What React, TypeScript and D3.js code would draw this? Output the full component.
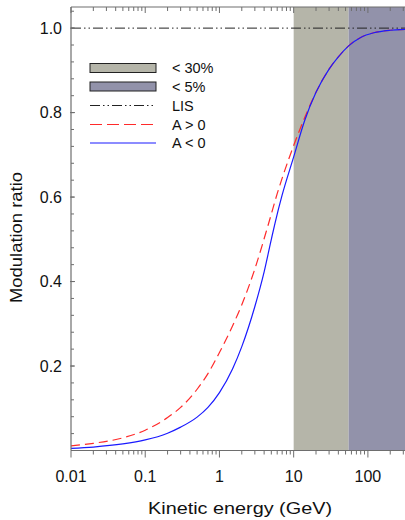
import React from "react";
import * as d3 from "d3";

// Kinetic energy grid (GeV) and modulation ratios for both polarity states
const energyPos = [0.01, 0.02, 0.05, 0.1, 0.2, 0.3, 0.5, 0.7, 1, 1.5, 2, 3, 4.5, 6, 8.5, 10, 14, 20, 30, 40, 55, 80, 120, 200, 316];
const ratioPos = [0.011, 0.017, 0.03, 0.048, 0.078, 0.102, 0.145, 0.182, 0.232, 0.295, 0.345, 0.43, 0.532, 0.608, 0.688, 0.722, 0.787, 0.848, 0.903, 0.932, 0.958, 0.978, 0.989, 0.995, 0.997];

const energyNeg = [0.01, 0.02, 0.05, 0.1, 0.2, 0.3, 0.5, 0.7, 1, 1.5, 2, 3, 4, 5, 5.6, 7, 10, 14, 20, 30, 40, 55, 80, 120, 200, 316];
const ratioNeg = [0.0052, 0.0082, 0.0155, 0.025, 0.041, 0.0553, 0.079, 0.102, 0.137, 0.193, 0.246, 0.341, 0.423, 0.5, 0.538, 0.605, 0.695, 0.78, 0.848, 0.903, 0.932, 0.958, 0.978, 0.989, 0.995, 0.997];

// Uncertainty bands (GeV)
const bandRanges = [
  { label: "< 30%", from: 10, to: 55, fill: "#b5b5a9" },
  { label: "< 5%", from: 55, to: 316.2, fill: "#9292aa" },
];

const xTickValues = [0.01, 0.1, 1, 10, 100];
const xTickLabels = ["0.01", "0.1", "1", "10", "100"];
const yTickValues = [0.2, 0.4, 0.6, 0.8, 1.0];
const yTickLabels = ["0.2", "0.4", "0.6", "0.8", "1.0"];

const W = 405;
const H = 520;
const m = { left: 71, right: 405, top: 7, bottom: 450.5 };

export default function App() {
  const x = d3.scaleLog().domain([0.01, 316.2]).range([m.left, m.right]);
  const y = d3.scaleLinear().domain([0, 1.05]).range([m.bottom, m.top]);

  const line = d3
    .line<[number, number]>()
    .x((d) => x(d[0]))
    .y((d) => y(d[1]))
    .curve(d3.curveMonotoneX);

  const posPath = line(energyPos.map((e, i) => [e, ratioPos[i]]) as [number, number][]) || "";
  const negPath = line(energyNeg.map((e, i) => [e, ratioNeg[i]]) as [number, number][]) || "";

  // minor x ticks: 2..9 in each decade
  const minorX: number[] = [];
  for (let p = -2; p <= 2; p++) {
    for (let k = 2; k <= 9; k++) {
      const v = k * Math.pow(10, p);
      if (v <= 316) minorX.push(v);
    }
  }
  const minorY: number[] = [];
  for (let i = 1; i <= 26; i++) {
    minorY.push(+(i * 0.04).toFixed(2));
  }

  const axisColor = "#6e6e6e";
  const font = "'Liberation Sans', Arial, sans-serif";
  const lisDash = "10,3,1.5,3,1.5,3";

  const legendX1 = 90;
  const legendX2 = 156;
  const legendTextX = 172;
  const rows = [68, 86.5, 105.5, 124.5, 143];

  return (
    <svg
      width={W}
      height={H}
      style={{ position: "absolute", left: 0, top: 0, background: "#fff" }}
      fontFamily={font}
    >
      {/* bands */}
      {bandRanges.map((b) => (
        <rect
          key={b.label}
          x={x(b.from)}
          y={m.top}
          width={x(b.to) - x(b.from)}
          height={m.bottom - m.top}
          fill={b.fill}
        />
      ))}

      {/* LIS reference */}
      <line
        x1={m.left}
        x2={m.right}
        y1={y(1)}
        y2={y(1)}
        stroke="#222"
        strokeWidth={1}
        strokeDasharray={lisDash}
      />

      {/* curves */}
      <path d={posPath} fill="none" stroke="#ff2a2a" strokeWidth={1.2} strokeDasharray="9,5" />
      <path d={negPath} fill="none" stroke="#1a1aff" strokeWidth={1.2} />

      {/* axes frame */}
      <line x1={m.left} x2={m.right} y1={m.top} y2={m.top} stroke={axisColor} strokeWidth={1.2} />
      <line x1={m.left} x2={m.left} y1={m.top} y2={m.bottom} stroke={axisColor} strokeWidth={1.2} />
      <line x1={m.left} x2={m.right} y1={m.bottom} y2={m.bottom} stroke={axisColor} strokeWidth={1.2} />

      {/* x ticks bottom (outside) and top (inside) */}
      {xTickValues.map((v) => (
        <g key={"xt" + v}>
          <line x1={x(v)} x2={x(v)} y1={m.bottom} y2={m.bottom + 7} stroke={axisColor} strokeWidth={1} />
          <line x1={x(v)} x2={x(v)} y1={m.top} y2={m.top + 6} stroke={axisColor} strokeWidth={1} />
        </g>
      ))}
      {minorX.map((v) => (
        <g key={"xm" + v}>
          <line x1={x(v)} x2={x(v)} y1={m.bottom} y2={m.bottom + 4} stroke={axisColor} strokeWidth={1} />
          <line x1={x(v)} x2={x(v)} y1={m.top} y2={m.top + 4} stroke={axisColor} strokeWidth={1} />
        </g>
      ))}
      {xTickValues.map((v, i) => (
        <text key={"xl" + v} x={x(v)} y={482} fontSize={16} textAnchor="middle" fill="#111">
          {xTickLabels[i]}
        </text>
      ))}

      {/* y ticks (inside) */}
      {minorY.map((v) => (
        <line key={"ym" + v} x1={m.left} x2={m.left + 3} y1={y(v)} y2={y(v)} stroke={axisColor} strokeWidth={1} />
      ))}
      {yTickValues.map((v, i) => (
        <g key={"yt" + v}>
          <line x1={m.left - 1} x2={m.left + 4} y1={y(v)} y2={y(v)} stroke={axisColor} strokeWidth={1} />
          <text x={62} y={y(v) + 5.5} fontSize={16} textAnchor="end" fill="#111">
            {yTickLabels[i]}
          </text>
        </g>
      ))}

      {/* axis titles */}
      <text x={240} y={514} fontSize={17} textAnchor="middle" fill="#111" textLength={184} lengthAdjust="spacingAndGlyphs">
        Kinetic energy (GeV)
      </text>
      <text
        transform={`translate(22,237.5) rotate(-90)`}
        fontSize={17}
        textAnchor="middle"
        fill="#111"
        textLength={131}
        lengthAdjust="spacingAndGlyphs"
      >
        Modulation ratio
      </text>

      {/* legend */}
      {bandRanges.map((b, i) => (
        <g key={"lg" + b.label}>
          <rect
            x={legendX1}
            y={rows[i] - 4.5}
            width={legendX2 - legendX1}
            height={9}
            fill={b.fill}
            stroke="#222"
            strokeWidth={1}
          />
          <text x={legendTextX} y={rows[i] + 5} fontSize={14.5} fill="#111">
            {b.label}
          </text>
        </g>
      ))}
      <line x1={legendX1} x2={legendX2} y1={rows[2]} y2={rows[2]} stroke="#222" strokeWidth={1} strokeDasharray={lisDash} />
      <text x={legendTextX} y={rows[2] + 5} fontSize={14.5} fill="#111">LIS</text>
      <line x1={legendX1} x2={legendX2} y1={rows[3]} y2={rows[3]} stroke="#ff2a2a" strokeWidth={1.2} strokeDasharray="12,5" />
      <text x={legendTextX} y={rows[3] + 5} fontSize={14.5} fill="#111">{"A > 0"}</text>
      <line x1={legendX1} x2={legendX2} y1={rows[4]} y2={rows[4]} stroke="#1a1aff" strokeWidth={1.2} />
      <text x={legendTextX} y={rows[4] + 5} fontSize={14.5} fill="#111">{"A < 0"}</text>
    </svg>
  );
}
